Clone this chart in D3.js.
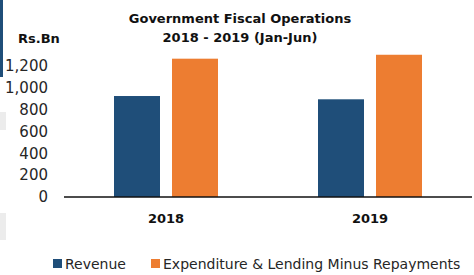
<!DOCTYPE html>
<html>
<head>
<meta charset="utf-8">
<script src="https://cdn.jsdelivr.net/npm/d3@7"></script>
<style>
  body { margin: 0; background: #fff; }
  svg text { font-family: "DejaVu Sans", sans-serif; }
</style>
</head>
<body>
<svg id="chart" width="474" height="275"></svg>
<script>
// chart data
const years = ['2018', '2019'];
const series_names = ['Revenue', 'Expenditure & Lending Minus Repayments'];
const revenue = [925, 895];
const expenditure = [1267, 1303];
const y_ticks = [0, 200, 400, 600, 800, 1000, 1200];
const colors = ['#1f4e79', '#ed7d31'];

const svg = d3.select('#chart');
const margin = {left: 64, right: 472, top: 66, bottom: 197};

// left edge bits from the cropped page
svg.append('rect').attr('x', 0).attr('y', 0).attr('width', 3).attr('height', 77).attr('fill', '#1f4e79');
svg.append('rect').attr('x', 0).attr('y', 112).attr('width', 6).attr('height', 18).attr('fill', '#ececec');
svg.append('rect').attr('x', 0).attr('y', 213).attr('width', 6).attr('height', 27).attr('fill', '#ececec');

const x = d3.scaleBand().domain(years).range([margin.left, margin.right]).padding(0);
const y = d3.scaleLinear().domain([0, 1200]).range([margin.bottom, margin.top]);

const bar_w = 46, bar_gap = 12;
const data = [];
years.forEach(function(yr, i) {
    data.push({year: yr, s: 0, value: revenue[i]});
    data.push({year: yr, s: 1, value: expenditure[i]});
});

svg.selectAll('.bar').data(data)
    .enter()
    .append('rect')
    .attr('class', 'bar')
    .attr('x', function(d) {
        const c = x(d.year) + x.bandwidth() / 2;
        return d.s == 0 ? c - bar_gap / 2 - bar_w : c + bar_gap / 2;
    })
    .attr('y', function(d) { return y(d.value); })
    .attr('width', bar_w)
    .attr('height', function(d) { return y(0) - y(d.value); })
    .attr('fill', function(d) { return colors[d.s]; });

// y axis labels, no line
svg.selectAll('.ytick').data(y_ticks)
    .enter()
    .append('text')
    .attr('x', 48)
    .attr('y', function(d) { return y(d); })
    .attr('dy', '0.35em')
    .attr('text-anchor', 'end')
    .attr('font-size', 15)
    .attr('fill', '#262626')
    .text(function(d) { return d3.format(',')(d); });

// baseline
svg.append('line')
    .attr('x1', margin.left).attr('x2', margin.right)
    .attr('y1', y(0)).attr('y2', y(0))
    .attr('stroke', '#111').attr('stroke-width', 1.3);

svg.selectAll('.xlab').data(years)
    .enter()
    .append('text')
    .attr('x', function(d) { return x(d) + x.bandwidth() / 2; })
    .attr('y', 223)
    .attr('text-anchor', 'middle')
    .attr('font-size', 13)
    .attr('font-weight', 'bold')
    .attr('fill', '#111')
    .text(function(d) { return d; });

// title
svg.append('text').attr('x', 240).attr('y', 23).attr('text-anchor', 'middle')
    .attr('font-size', 13).attr('font-weight', 'bold').attr('fill', '#111')
    .text('Government Fiscal Operations');
svg.append('text').attr('x', 240).attr('y', 42).attr('text-anchor', 'middle')
    .attr('font-size', 13).attr('font-weight', 'bold').attr('fill', '#111')
    .text('2018 - 2019 (Jan-Jun)');
svg.append('text').attr('x', 18).attr('y', 43)
    .attr('font-size', 13).attr('font-weight', 'bold').attr('fill', '#111')
    .text('Rs.Bn');

// legend
const legend_x = [53, 151];
const legend = svg.selectAll('.leg').data(series_names)
    .enter()
    .append('g')
    .attr('transform', function(d, i) { return 'translate(' + legend_x[i] + ',259)'; });
legend.append('rect').attr('width', 9).attr('height', 9)
    .attr('fill', function(d, i) { return colors[i]; });
legend.append('text').attr('x', 12).attr('y', 9.5)
    .attr('font-size', 14).attr('fill', '#262626')
    .text(function(d) { return d; });
</script>
</body>
</html>
